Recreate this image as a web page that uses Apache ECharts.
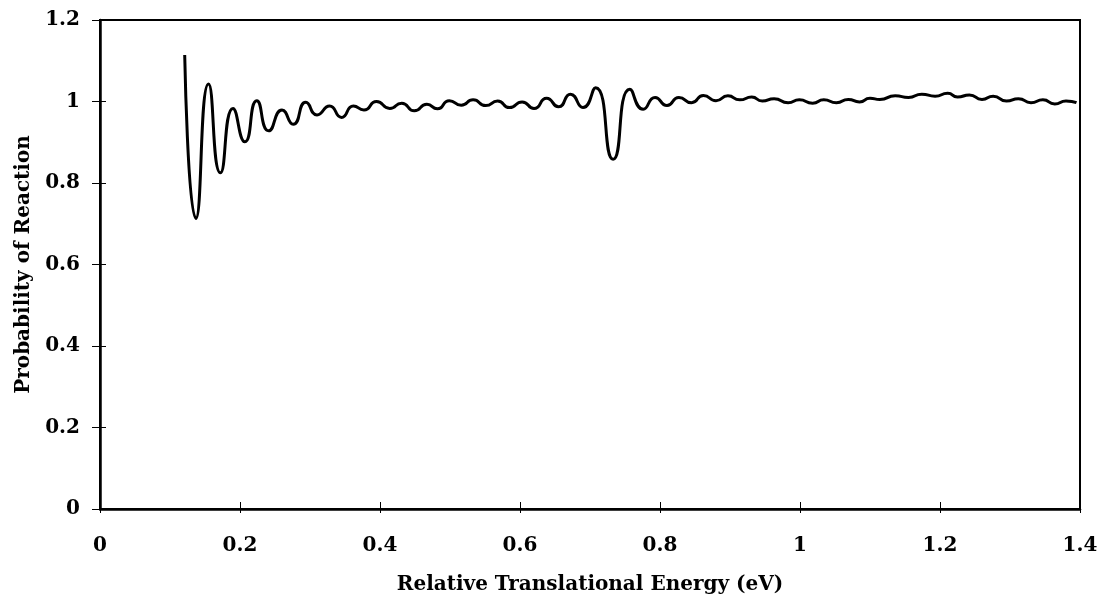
<!DOCTYPE html>
<html>
<head>
<meta charset="utf-8">
<script src="https://cdn.jsdelivr.net/npm/echarts@6/dist/echarts.min.js"></script>
<style>
html,body{margin:0;padding:0;background:#fff;}
#chart{width:1101px;height:598px;}
</style>
</head>
<body>
<div id="chart"></div>
<script>
const energy = [0.121,0.137,0.155,0.172,0.190,0.207,0.224,0.241,0.260,0.276,0.294,0.310,0.328,0.345,0.362,0.377,
  0.395,0.414,0.431,0.449,0.467,0.482,0.499,0.516,0.533,0.551,0.568,0.585,0.603,0.620,0.638,0.655,0.672,0.690,
  0.708,0.733,0.757,0.776,0.793,0.810,0.827,0.845,0.862,0.880,0.897,0.914,0.931,0.946,0.963,0.983,0.999,
  1.018,1.034,1.052,1.069,1.085,1.100,1.114,1.136,1.155,1.174,1.193,1.211,1.225,1.242,1.260,1.276,1.295,
  1.312,1.330,1.347,1.364,1.380,1.395];
const probability = [1.114,0.713,1.043,0.825,0.983,0.901,1.002,0.928,0.979,0.944,0.998,0.967,0.989,0.961,0.989,0.979,
  1.000,0.983,0.996,0.977,0.993,0.982,1.002,0.991,1.004,0.990,1.001,0.985,0.999,0.983,1.008,0.987,1.018,0.985,
  1.034,0.858,1.030,0.981,1.010,0.990,1.010,0.997,1.015,1.002,1.014,1.004,1.011,1.001,1.007,0.997,1.004,
  0.996,1.004,0.997,1.005,0.999,1.008,1.005,1.014,1.010,1.018,1.013,1.020,1.011,1.016,1.005,1.013,1.001,
  1.007,0.997,1.004,0.994,1.001,0.997];
const xTitle = 'Relative Translational Energy (eV)';
const yTitle = 'Probability of Reaction';

const font = '"DejaVu Serif", serif';
const chart = echarts.init(document.getElementById('chart'), null, {renderer:'canvas'});
const pts = energy.map((e,i)=>[e, probability[i]]);
const lab = {color:'#000', fontFamily:font, fontWeight:'bold', fontSize:20};
chart.setOption({
  animation:false,
  backgroundColor:'#fff',
  grid:{left:100, right:21, top:20, bottom:89, containLabel:false, outerBoundsMode:'none',
        show:true, borderColor:'#000', borderWidth:2, backgroundColor:'transparent'},
  xAxis:[{
    type:'value', min:0, max:1.4, interval:0.2,
    axisLine:{show:true, lineStyle:{color:'#000', width:2.5}},
    axisTick:{show:true, inside:false, length:4, lineStyle:{color:'#000', width:1}},
    axisLabel:Object.assign({margin:27, formatter:v=>String(+v.toFixed(1))}, lab),
    splitLine:{show:false},
    name:xTitle, nameLocation:'middle', nameGap:66,
    nameTextStyle:{color:'#000', fontFamily:font, fontWeight:'bold', fontSize:20}
  },{
    type:'value', min:0, max:1.4, interval:0.2, position:'bottom',
    axisLine:{show:false}, axisLabel:{show:false}, splitLine:{show:false},
    axisTick:{show:true, inside:true, length:7, lineStyle:{color:'#000', width:1}}
  }],
  yAxis:[{
    type:'value', min:0, max:1.2, interval:0.2,
    axisLine:{show:true, lineStyle:{color:'#000', width:2.5}},
    axisTick:{show:true, inside:false, length:8, lineStyle:{color:'#000', width:1}},
    axisLabel:Object.assign({margin:20, formatter:v=>String(+v.toFixed(1))}, lab),
    splitLine:{show:false},
    name:yTitle, nameLocation:'middle', nameGap:66,
    nameTextStyle:{color:'#000', fontFamily:font, fontWeight:'bold', fontSize:20}
  },{
    type:'value', min:0, max:1.2, interval:0.2, position:'left',
    axisLine:{show:false}, axisLabel:{show:false}, splitLine:{show:false},
    axisTick:{show:true, inside:true, length:6, lineStyle:{color:'#000', width:1}}
  }],
  series:[{
    type:'line', xAxisIndex:0, yAxisIndex:0, data:pts, smooth:0.6,
    showSymbol:false, symbol:'none',
    lineStyle:{color:'#000', width:3}
  }]
});
</script>
</body>
</html>
